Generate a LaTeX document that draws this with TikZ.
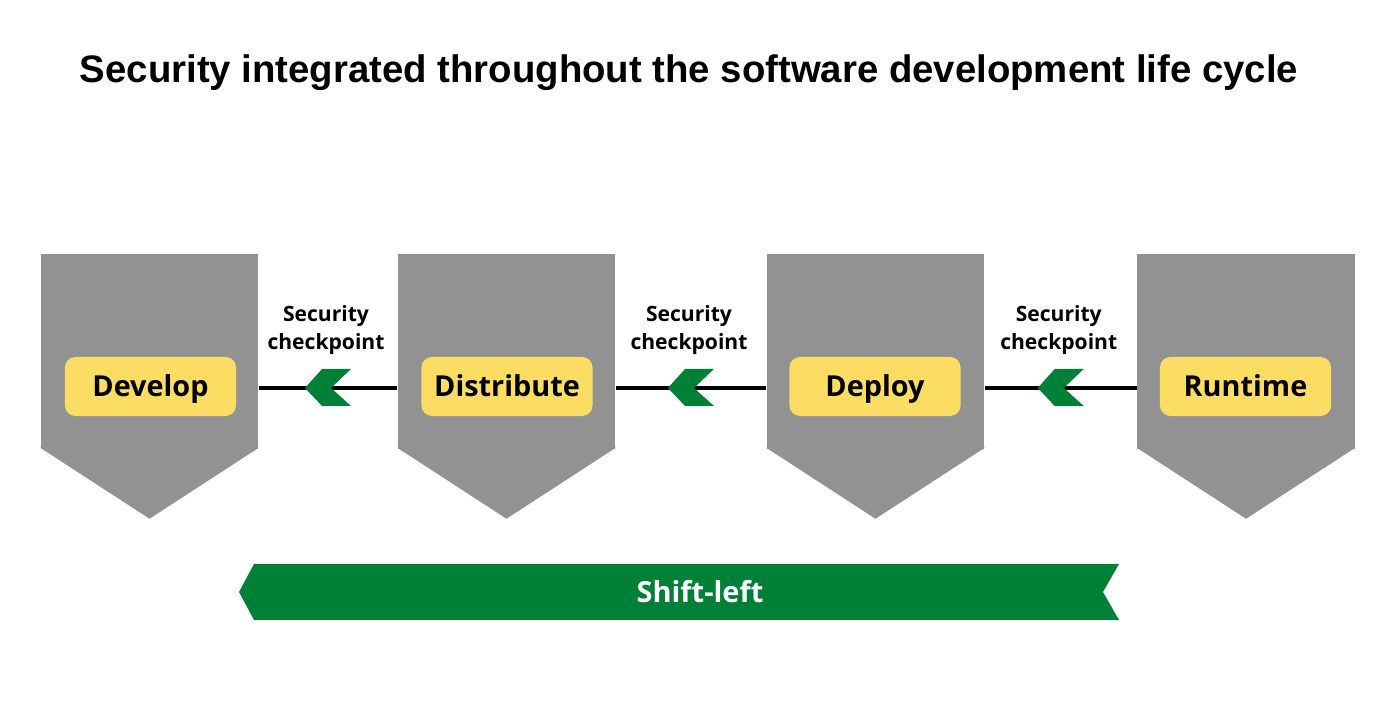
\documentclass[tikz,border=0pt]{standalone}
\usepackage{fontspec}
\setmainfont{Open Sans}
\newfontfamily\titlefont{Liberation Sans}
\usetikzlibrary{calc}
\definecolor{stagegray}{HTML}{929292}
\definecolor{phaseyellow}{HTML}{FBDD63}
\definecolor{shiftgreen}{HTML}{008037}
\tikzset{stage/.style={fill=stagegray,minimum width=2.17cm,minimum height=1.95cm,inner sep=0pt},
  phase/.style={fill=phaseyellow,rounded corners=3pt,minimum width=1.71cm,minimum height=0.59cm,
    inner sep=0pt,text height=5.9pt,text depth=0pt,font=\fontsize{8.2}{9}\selectfont\bfseries},
  link/.style={draw=black,line width=1pt},
  check/.style={align=center,font=\fontsize{6}{8}\selectfont\bfseries},
  gate/.pic={\fill[shiftgreen] (-23,0) -- (-6,19) -- (23,19) -- (3,0) -- (23,-18) -- (-6,-18) -- cycle;}}

\begin{document}
\begin{tikzpicture}[x=0.01cm,y=0.01cm]
    \useasboundingbox (0,0) rectangle (1400,728);

    \node[anchor=base,font=\titlefont\fontsize{10.9}{12}\selectfont\bfseries] (title) at (689,645)
        {Security integrated throughout the software development life cycle};

    \node[stage] at (149.5,376.5)   (dev)  {};
    \node[stage] at (506.5,376.5)   (dist) {};
    \node[stage] at (875.5,376.5)   (dep)  {};
    \node[stage] at (1246,376.5)    (run)  {};
    \foreach \s in {dev,dist,dep,run}
        \fill[stagegray] ($(\s.south west)+(0,2)$) -- ($(\s.south)+(0,-69)$) -- ($(\s.south east)+(0,2)$) -- cycle;

    \node[phase] at (150.5,341.5)   (dev-l)  {Develop};
    \node[phase] at (507,341.5)     (dist-l) {Distribute};
    \node[phase] at (875,341.5)     (dep-l)  {Deploy};
    \node[phase] at (1245.5,341.5)  (run-l)  {Runtime};

    \draw[link] (dev.east |- 0,340) -- (dist.west |- 0,340) coordinate[midway] (g1);
    \draw[link] (dist.east |- 0,340) -- (dep.west |- 0,340) coordinate[midway] (g2);
    \draw[link] (dep.east |- 0,340) -- (run.west |- 0,340) coordinate[midway] (g3);

    \foreach \g in {g1,g2,g3} {
        \pic at (\g) {gate};
        \node[check] at ($(\g)+(-2,58)$) {Security\\checkpoint};
    }

    \fill[shiftgreen] (239,136) -- (254,164) -- (1119,164) -- (1103,136) -- (1119,108) -- (254,108) -- cycle;
    \node[text=white,font=\fontsize{8.25}{10}\selectfont\bfseries] at (700,136) (shift) {Shift-left};
\end{tikzpicture}
\end{document}
